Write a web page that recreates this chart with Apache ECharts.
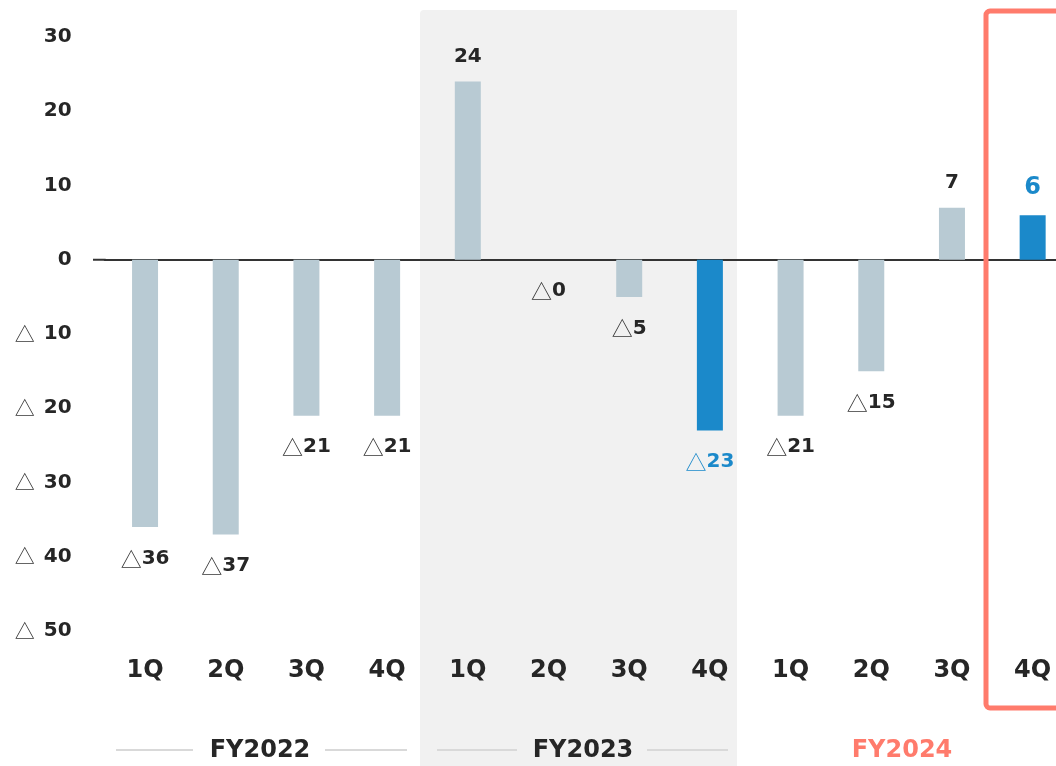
<!DOCTYPE html>
<html>
<head>
<meta charset="utf-8">
<script src="https://cdn.jsdelivr.net/npm/echarts@6/dist/echarts.min.js"></script>
<style>
  html, body { margin: 0; padding: 0; overflow: hidden; background: #ffffff; }
  #main { width: 1073px; height: 766px; }
</style>
</head>
<body>
<div id="main"></div>
<script>
// Quarterly operating result by fiscal year (△ = loss)
const quarters = ['1Q', '2Q', '3Q', '4Q', '1Q', '2Q', '3Q', '4Q', '1Q', '2Q', '3Q', '4Q'];
const values = [-36, -37, -21, -21, 24, 0, -5, -23, -21, -15, 7, 6];
const highlighted = [7, 11];
const fiscalYears = ['FY2022', 'FY2023', 'FY2024'];
const yTicks = { min: -50, max: 30, step: 10 };

const NUM_FONT = '"DejaVu Sans", Verdana, sans-serif';
const TRI_FONT = '"Noto Sans CJK JP", sans-serif';
const TEXT = '#262626';
const BAR = '#b8cad3';
const BLUE = '#1b89ca';
const CORAL = '#ff7b6c';

const chart = echarts.init(document.getElementById('main'), null, { renderer: 'canvas' });

const barData = values.map((v, i) => {
  const hi = highlighted.includes(i);
  return {
    value: v,
    itemStyle: { color: hi ? BLUE : BAR },
    label: { position: v > 0 ? 'top' : 'bottom', distance: v > 0 ? 15 : 21 }
  };
});

function valueLabel(p) {
  const v = p.value;
  const hi = highlighted.includes(p.dataIndex);
  if (v > 0) return hi ? '{nbBig|' + v + '}' : '{n|' + v + '}';
  return hi ? '{tb|△}{nb|' + Math.abs(v) + '}' : '{t|△}{n|' + Math.abs(v) + '}';
}

function yLabel(v) {
  if (v < 0) return '{t|△}{s|}{n|' + Math.abs(v) + '}';
  return '{n|' + v + '}';
}

const option = {
  animation: false,
  backgroundColor: '#ffffff',
  grid: { left: 104.7, right: 0, top: 37, bottom: 135, containLabel: false },
  xAxis: [
    {
      type: 'category',
      data: quarters,
      position: 'bottom',
      axisLine: { show: false, onZero: false },
      axisTick: { show: false },
      splitLine: { show: false },
      axisLabel: {
        margin: 28,
        color: TEXT,
        fontFamily: NUM_FONT,
        fontWeight: 'bold',
        fontSize: 24
      }
    },
    {
      type: 'category',
      data: quarters,
      position: 'top',
      axisLine: { show: true, onZero: true, lineStyle: { color: '#333333', width: 2 } },
      axisTick: { show: false },
      axisLabel: { show: false },
      splitLine: { show: false }
    }
  ],
  yAxis: {
    type: 'value',
    min: yTicks.min,
    max: yTicks.max,
    interval: yTicks.step,
    axisLine: { show: false },
    axisTick: { show: false },
    splitLine: { show: false },
    axisLabel: {
      margin: 33,
      formatter: yLabel,
      rich: {
        n: { color: TEXT, fontFamily: NUM_FONT, fontWeight: 'bold', fontSize: 20 },
        s: { width: 9 },
        t: { color: '#333333', fontFamily: TRI_FONT, fontWeight: 'normal', fontSize: 20 }
      }
    }
  },
  series: [
    {
      type: 'bar',
      xAxisIndex: 0,
      barWidth: 26,
      data: barData,
      z: 3,
      label: {
        show: true,
        formatter: valueLabel,
        rich: {
          n: { color: TEXT, fontFamily: NUM_FONT, fontWeight: 'bold', fontSize: 20 },
          t: { color: '#333333', fontFamily: TRI_FONT, fontWeight: 'normal', fontSize: 21 },
          nb: { color: BLUE, fontFamily: NUM_FONT, fontWeight: 'bold', fontSize: 20 },
          tb: { color: BLUE, fontFamily: TRI_FONT, fontWeight: 'normal', fontSize: 21 },
          nbBig: { color: BLUE, fontFamily: NUM_FONT, fontWeight: 'bold', fontSize: 24 }
        }
      }
    }
  ],
  graphic: [
    // shaded FY2023 block
    {
      type: 'rect', z: -10, silent: true,
      shape: { x: 420, y: 10, width: 317, height: 770, r: [4, 0, 0, 0] },
      style: { fill: '#f1f1f1' }
    },
    // frame around the latest quarter
    {
      type: 'rect', z: 100, silent: true,
      shape: { x: 986, y: 11, width: 120, height: 697, r: 4 },
      style: { fill: 'none', stroke: CORAL, lineWidth: 5 }
    },
    // fiscal year captions
    { type: 'line', z: 1, silent: true, shape: { x1: 116, y1: 750, x2: 193, y2: 750 }, style: { stroke: '#d9d9d9', lineWidth: 2 } },
    { type: 'line', z: 1, silent: true, shape: { x1: 325, y1: 750, x2: 407, y2: 750 }, style: { stroke: '#d9d9d9', lineWidth: 2 } },
    { type: 'line', z: 1, silent: true, shape: { x1: 437, y1: 750, x2: 517, y2: 750 }, style: { stroke: '#d9d9d9', lineWidth: 2 } },
    { type: 'line', z: 1, silent: true, shape: { x1: 647, y1: 750, x2: 728, y2: 750 }, style: { stroke: '#d9d9d9', lineWidth: 2 } },
    {
      type: 'text', z: 1, silent: true, x: 260, y: 751,
      style: { text: fiscalYears[0], textAlign: 'center', textVerticalAlign: 'middle', fill: TEXT, font: 'bold 24px ' + NUM_FONT }
    },
    {
      type: 'text', z: 1, silent: true, x: 583, y: 751,
      style: { text: fiscalYears[1], textAlign: 'center', textVerticalAlign: 'middle', fill: TEXT, font: 'bold 24px ' + NUM_FONT }
    },
    {
      type: 'text', z: 1, silent: true, x: 902, y: 751,
      style: { text: fiscalYears[2], textAlign: 'center', textVerticalAlign: 'middle', fill: CORAL, font: 'bold 24px ' + NUM_FONT }
    }
  ]
};

chart.setOption(option);

// extend the zero baseline slightly to the left of the first category band
const zeroY = chart.convertToPixel({ yAxisIndex: 0 }, 0);
const gridLeft = option.grid.left;
chart.setOption({
  graphic: option.graphic.concat([
    {
      type: 'line', z: 5, silent: true,
      shape: { x1: 93, y1: zeroY, x2: gridLeft + 1, y2: zeroY },
      style: { stroke: '#333333', lineWidth: 2 }
    }
  ])
});
</script>
</body>
</html>
